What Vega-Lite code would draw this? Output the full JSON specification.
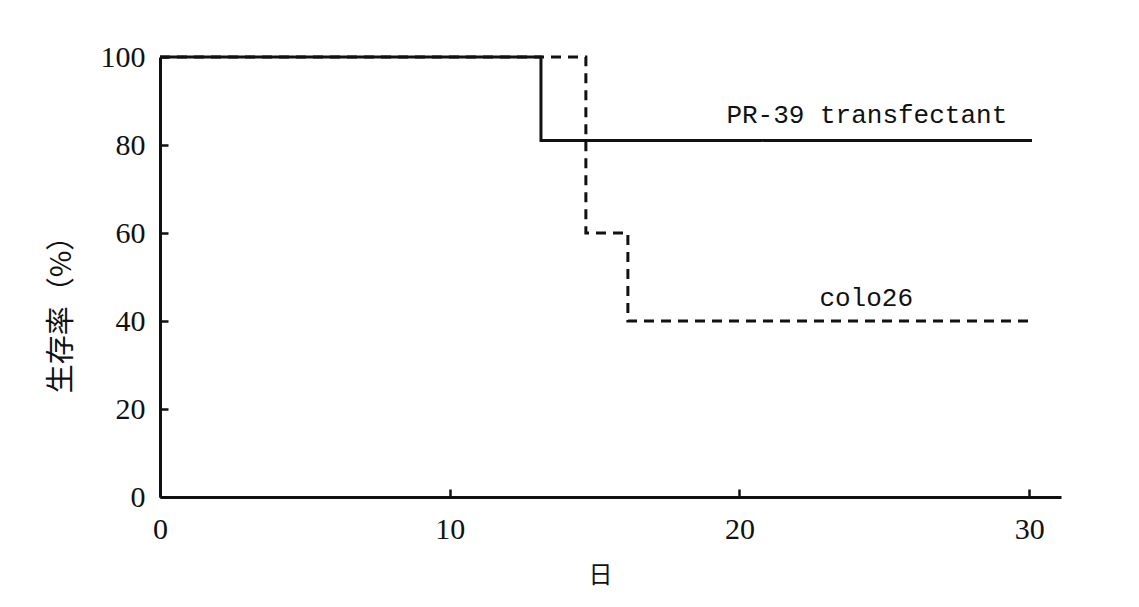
{
  "$schema": "https://vega.github.io/schema/vega-lite/v6.json",
  "width": 901,
  "height": 440,
  "autosize": {"type": "none"},
  "padding": {"left": 160, "top": 57, "right": 78, "bottom": 110},
  "background": "white",
  "config": {"view": {"stroke": null}, "font": "Liberation Serif"},
  "layer": [
    {
      "data": {"values": [
        {"group": "PR-39 transfectant", "day": 0, "survival": 100},
        {"group": "PR-39 transfectant", "day": 13.15, "survival": 81},
        {"group": "PR-39 transfectant", "day": 30.1, "survival": 81},
        {"group": "colo26", "day": 0, "survival": 100},
        {"group": "colo26", "day": 14.7, "survival": 60},
        {"group": "colo26", "day": 16.15, "survival": 40},
        {"group": "colo26", "day": 30.1, "survival": 40}
      ]},
      "mark": {"type": "line", "interpolate": "step-after", "strokeWidth": 3, "color": "#111111"},
      "encoding": {
        "x": {"field": "day", "type": "quantitative",
          "scale": {"domain": [0, 31.1], "nice": false, "zero": false},
          "axis": {"values": [0, 10, 20, 30], "title": "日", "grid": false,
            "tickSize": -8, "tickWidth": 2.5, "tickColor": "#111111",
            "domainColor": "#111111", "domainWidth": 3,
            "labelFont": "Liberation Serif", "labelFontSize": 30, "labelColor": "#111111",
            "labelPadding": 25, "labelFlush": false,
            "titleFont": "Noto Sans CJK JP", "titleFontSize": 24, "titleFontWeight": "normal",
            "titleColor": "#111111", "titleX": 440, "titleY": 78, "titleBaseline": "middle", "titleAlign": "center"}},
        "y": {"field": "survival", "type": "quantitative",
          "scale": {"domain": [0, 100], "nice": false},
          "axis": {"values": [0, 20, 40, 60, 80, 100], "title": "生存率（%）", "grid": false,
            "tickSize": -8, "tickWidth": 2.5, "tickColor": "#111111",
            "domainColor": "#111111", "domainWidth": 3,
            "labelFont": "Liberation Serif", "labelFontSize": 30, "labelColor": "#111111",
            "labelPadding": 23, "labelFlush": false,
            "titleFont": "Noto Sans CJK JP", "titleFontSize": 29, "titleFontWeight": "normal",
            "titleColor": "#111111", "titleAngle": -90, "titleX": -99, "titleY": 250,
            "titleBaseline": "middle", "titleAlign": "center"}},
        "strokeDash": {"field": "group", "type": "nominal",
          "scale": {"domain": ["PR-39 transfectant", "colo26"], "range": [[1, 0], [10, 7]]},
          "legend": null}
      }
    },
    {
      "data": {"values": [
        {"label": "PR-39 transfectant", "x": 19.55, "y": 86.8},
        {"label": "colo26", "x": 22.76, "y": 45.2}
      ]},
      "mark": {"type": "text", "align": "left", "baseline": "middle", "font": "Liberation Mono", "fontSize": 26, "color": "#111111"},
      "encoding": {
        "x": {"field": "x", "type": "quantitative"},
        "y": {"field": "y", "type": "quantitative"},
        "text": {"field": "label"}
      }
    }
  ]
}
